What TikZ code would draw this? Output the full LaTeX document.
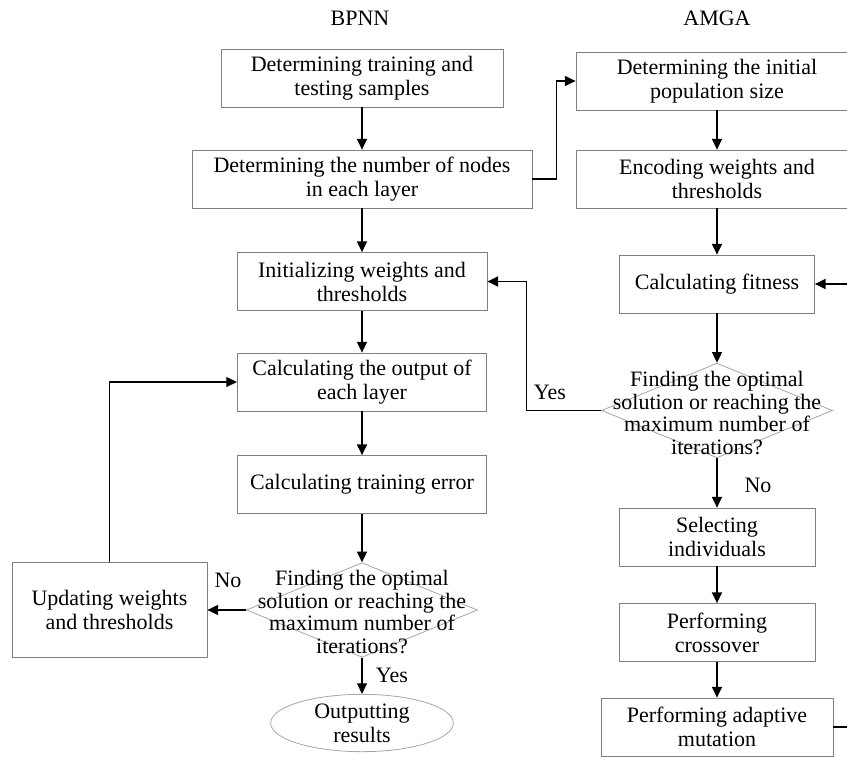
\documentclass[tikz,border=0pt]{standalone}
\usepackage{fontspec}
\setmainfont{Liberation Serif}
\usetikzlibrary{arrows.meta,shapes.geometric}

\tikzset{
  procbox/.style={draw=black!50, line width=0.6pt, align=center, inner sep=2pt,
    minimum height=43.5pt, font=\fontsize{16.5}{18}\selectfont},
  decision/.style={draw=black!35, line width=0.6pt, diamond, inner sep=0pt,
    minimum width=173.25pt, minimum height=71pt},
  dectext/.style={align=center, inner sep=0pt, font=\fontsize{16.5}{17}\selectfont},
  endnode/.style={draw=black!35, line width=0.6pt, ellipse, inner sep=0pt, align=center,
    minimum width=137pt, minimum height=43pt, font=\fontsize{16.5}{18}\selectfont},
  flow/.style={line width=0.9pt, -{Triangle[length=8pt,width=7.5pt]}},
  lbl/.style={inner sep=0pt, font=\fontsize{16.5}{18}\selectfont},
}

\begin{document}
\begin{tikzpicture}[x=0.75pt,y=0.75pt,yscale=-1,xscale=1]
	\useasboundingbox (0,0) rectangle (847,757);
	\clip (0,0) rectangle (847,757);

	% Titles
	\node[lbl] (bpnn) at (360,18) {BPNN};
	\node[lbl] (amga) at (717,18) {AMGA};

	% BPNN column
	\node[procbox, minimum width=211.5pt] (detsample) at (362,78) {Determining training and\\testing samples};
	\node[procbox, minimum width=255pt] (detnodes) at (362,179) {Determining the number of nodes\\in each layer};
	\node[procbox, minimum width=187.5pt] (initw) at (362,281.5) {Initializing weights and\\thresholds};
	\node[procbox, minimum width=187pt] (calcout) at (362,382) {Calculating the output of\\each layer};
	\node[procbox, minimum width=187pt] (calcerr) at (362,484.5) {Calculating training error};
	\node[decision] (bpcheck) at (362,610) {};
	\node[dectext] (bpchecktxt) at (362,612) {Finding the optimal\\solution or reaching the\\maximum number of\\iterations?};
	\node[procbox, minimum width=146.25pt, minimum height=71.25pt] (updw) at (109.5,610) {Updating weights\\and thresholds};
	\node[endnode] (output) at (362,723) {Outputting\\results};

	% AMGA column
	\node[procbox, minimum width=211.5pt] (popsize) at (717,81) {Determining the initial\\population size};
	\node[procbox, minimum width=211.5pt] (encode) at (717,179) {Encoding weights and\\thresholds};
	\node[procbox, minimum width=146.25pt] (fitness) at (717,284) {Calculating fitness};
	\node[decision] (gacheck) at (717,410.5) {};
	\node[dectext] (gachecktxt) at (717,413) {Finding the optimal\\solution or reaching the\\maximum number of\\iterations?};
	\node[procbox, minimum width=147pt] (select) at (717,537) {Selecting\\individuals};
	\node[procbox, minimum width=147pt] (cross) at (717,632.5) {Performing\\crossover};
	\node[procbox, minimum width=174pt] (mutate) at (717,727) {Performing adaptive\\mutation};

	% Yes / No labels
	\node[lbl] (bpno) at (228,580) {No};
	\node[lbl] (bpyes) at (392,675) {Yes};
	\node[lbl] (gayes) at (550,392) {Yes};
	\node[lbl] (gano) at (758,485) {No};

	% BPNN connections
	\draw[flow] (detsample) -- (detnodes);
	\draw[flow] (detnodes) -- (initw);
	\draw[flow] (initw) -- (calcout);
	\draw[flow] (calcout) -- (calcerr);
	\draw[flow] (calcerr) -- (bpcheck);
	\draw[flow] (bpcheck) -- (output);
	\draw[flow] (bpcheck.west) -- (updw.east);
	\draw[flow] (updw.north) |- (calcout.west);

	% link to AMGA
	\draw[flow] (detnodes.east) -- ++(24,0) |- (popsize.west);

	% AMGA connections
	\draw[flow] (popsize) -- (encode);
	\draw[flow] (encode) -- (fitness);
	\draw[flow] (fitness) -- (gacheck);
	\draw[flow] (gacheck) -- (select);
	\draw[flow] (select) -- (cross);
	\draw[flow] (cross) -- (mutate);
	\draw[flow] (gacheck.west) -- ++(-75,0) |- (initw.east);
	\draw[flow] (mutate.east) -- ++(30,0) |- (fitness.east);

\end{tikzpicture}
\end{document}
